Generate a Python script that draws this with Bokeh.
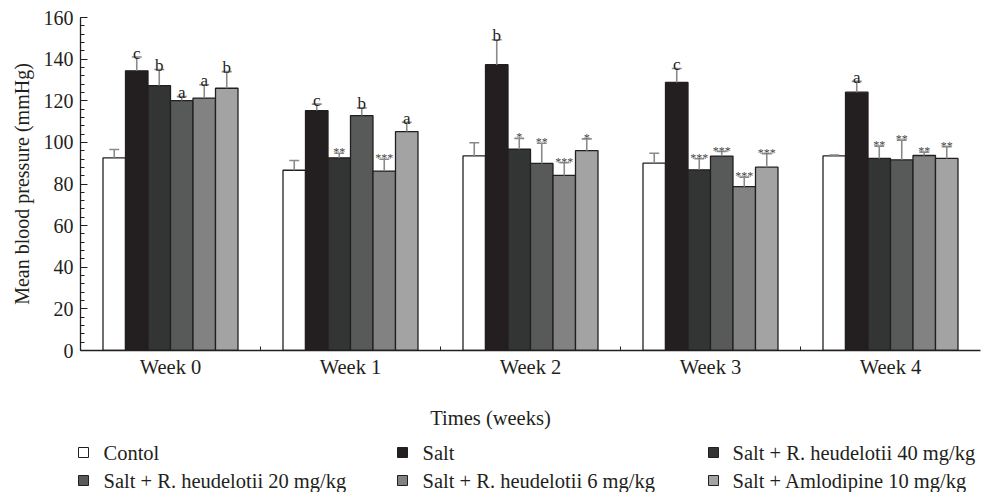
from bokeh.plotting import figure
from bokeh.models import Range1d, FixedTicker
from bokeh.layouts import column
from bokeh.core.properties import value
from bokeh.embed import file_html
from bokeh.resources import INLINE

# ---- data -------------------------------------------------------------
weeks = ["Week 0", "Week 1", "Week 2", "Week 3", "Week 4"]
groups = [
    "Contol",
    "Salt",
    "Salt + R. heudelotii 40 mg/kg",
    "Salt + R. heudelotii 20 mg/kg",
    "Salt + R. heudelotii 6 mg/kg",
    "Salt + Amlodipine 10 mg/kg",
]
colors = ["#ffffff", "#231f20", "#333535", "#575a59", "#818281", "#a3a3a3"]

# mean blood pressure (mmHg) per group, one value per week
control_mean = [92.6, 86.6, 93.5, 90.0, 93.5]
salt_mean = [134.4, 115.3, 137.3, 128.8, 124.1]
r40_mean = [127.3, 92.6, 96.7, 86.8, 92.3]
r20_mean = [120.1, 112.9, 89.9, 93.4, 91.6]
r6_mean = [121.3, 86.2, 84.1, 78.7, 93.7]
aml_mean = [126.0, 105.2, 96.0, 88.1, 92.3]

# standard error (upper whisker only)
control_err = [4.0, 4.7, 6.3, 4.8, 0.4]
salt_err = [6.6, 3.1, 12.0, 6.7, 5.2]
r40_err = [7.7, 2.2, 5.2, 5.3, 5.9]
r20_err = [1.9, 3.7, 9.7, 2.2, 9.5]
r6_err = [6.4, 5.7, 6.1, 4.6, 1.6]
aml_err = [8.0, 4.5, 5.7, 6.4, 5.6]

# significance marks above each bar
control_sig = ["", "", "", "", ""]
salt_sig = ["c", "c", "b", "c", "a"]
r40_sig = ["b", "**", "*", "***", "**"]
r20_sig = ["a", "b", "**", "***", "**"]
r6_sig = ["a", "***", "***", "***", "**"]
aml_sig = ["b", "a", "*", "***", "**"]

means = [control_mean, salt_mean, r40_mean, r20_mean, r6_mean, aml_mean]
errs = [control_err, salt_err, r40_err, r20_err, r6_err, aml_err]
sigs = [control_sig, salt_sig, r40_sig, r20_sig, r6_sig, aml_sig]

y_ticks = list(range(0, 161, 20))
y_minor = list(range(0, 161, 4))

# ---- styling ----------------------------------------------------------
FONT = "'Liberation Serif', 'DejaVu Serif', serif"
INK = "#231f20"
ERR = "#8a8a8a"
BAR_W = 0.125
CAP_W = 0.055
LEFT, RIGHT, TOP = 80, 4, 17
W = 984

p = figure(
    width=W, height=385,
    x_range=Range1d(0, len(weeks)), y_range=Range1d(0, 160),
    output_backend="svg", toolbar_location=None,
    min_border_left=LEFT, min_border_right=RIGHT,
    min_border_top=TOP, min_border_bottom=35,
)
p.outline_line_color = None
p.grid.visible = False
p.background_fill_color = "white"
p.border_fill_color = "white"

n = len(groups)
for j, (g, c) in enumerate(zip(groups, colors)):
    xs = [i + 0.5 + (j - (n - 1) / 2) * BAR_W for i in range(len(weeks))]
    tops = [m + e for m, e in zip(means[j], errs[j])]

    p.vbar(x=xs, top=means[j], bottom=0, width=BAR_W,
           fill_color=c, line_color=INK, line_width=1.3)

    # upper error whisker with cap
    p.segment(x0=xs, y0=means[j], x1=xs, y1=tops, line_color=ERR, line_width=1.6)
    p.segment(x0=[x - CAP_W / 2 for x in xs], y0=tops,
              x1=[x + CAP_W / 2 for x in xs], y1=tops,
              line_color=ERR, line_width=1.6)

    letters = [(x, t, s) for x, t, s in zip(xs, tops, sigs[j]) if s and s[0] != "*"]
    stars = [(x, t, s) for x, t, s in zip(xs, tops, sigs[j]) if s.startswith("*")]
    if letters:
        lx, ly, lt = zip(*letters)
        p.text(x=list(lx), y=list(ly), text=list(lt),
               text_font=value(FONT), text_font_size="17px",
               text_color=INK, text_align="center",
               text_baseline="alphabetic", y_offset=-4)
    if stars:
        sx, sy, st = zip(*stars)
        p.text(x=list(sx), y=list(sy), text=list(st),
               text_font=value(FONT), text_font_size="12px",
               text_color="#444444", text_align="center",
               text_baseline="alphabetic", y_offset=-1)

# x axis: week labels at group centres, small ticks between groups
centres = [i + 0.5 for i in range(len(weeks))]
xa = p.xaxis[0]
xa.ticker = FixedTicker(ticks=centres, minor_ticks=list(range(1, len(weeks))))
xa.major_label_overrides = {c: w for c, w in zip(centres, weeks)}
xa.major_tick_in = 0
xa.major_tick_out = 0
xa.minor_tick_in = 4
xa.minor_tick_out = 0
xa.minor_tick_line_color = INK
xa.axis_line_color = INK
xa.axis_line_width = 1.3
xa.major_label_standoff = 5
xa.major_label_text_font = FONT
xa.major_label_text_font_size = "20.5px"
xa.major_label_text_color = INK

ya = p.yaxis[0]
ya.ticker = FixedTicker(ticks=y_ticks, minor_ticks=y_minor)
ya.major_tick_in = 7
ya.major_tick_out = 0
ya.minor_tick_in = 4
ya.minor_tick_out = 0
ya.major_tick_line_color = INK
ya.minor_tick_line_color = INK
ya.axis_line_color = INK
ya.axis_line_width = 1.3
ya.major_label_standoff = 7
ya.major_label_text_font = FONT
ya.major_label_text_font_size = "20px"
ya.major_label_text_color = INK
ya.axis_label = "Mean blood pressure (mmHg)"
ya.axis_label_text_font = FONT
ya.axis_label_text_font_size = "20px"
ya.axis_label_text_font_style = "normal"
ya.axis_label_text_color = INK
ya.axis_label_standoff = 8

# ---- axis title and legend -------------------------------------------
# a free-standing panel whose data units are plain pixels
leg = figure(
    width=W, height=107,
    x_range=Range1d(0, W), y_range=Range1d(107, 0),
    x_axis_type=None, y_axis_type=None,
    output_backend="svg", toolbar_location=None, min_border=0,
)
leg.frame_align = False
leg.outline_line_color = None
leg.grid.visible = False

leg.text(x=[W / 2 - 2], y=[32], text=["Times (weeks)"],
         text_font=value(FONT), text_font_size="20.5px", text_color=INK,
         text_align="center", text_baseline="alphabetic")

col_sq = [83, 402, 713]
col_tx = [103, 422, 732]
row_y = [67, 95]
for k, (g, c) in enumerate(zip(groups, colors)):
    r, cidx = divmod(k, 3)
    leg.scatter(x=[col_sq[cidx]], y=[row_y[r]], marker="square", size=10,
                fill_color=c, line_color=INK, line_width=1)
    leg.text(x=[col_tx[cidx]], y=[row_y[r]], text=[g],
             text_font=value(FONT), text_font_size="20.5px", text_color=INK,
             text_align="left", text_baseline="middle")

layout = column(p, leg, spacing=0)
open("out.html", "w").write(file_html(layout, INLINE))
